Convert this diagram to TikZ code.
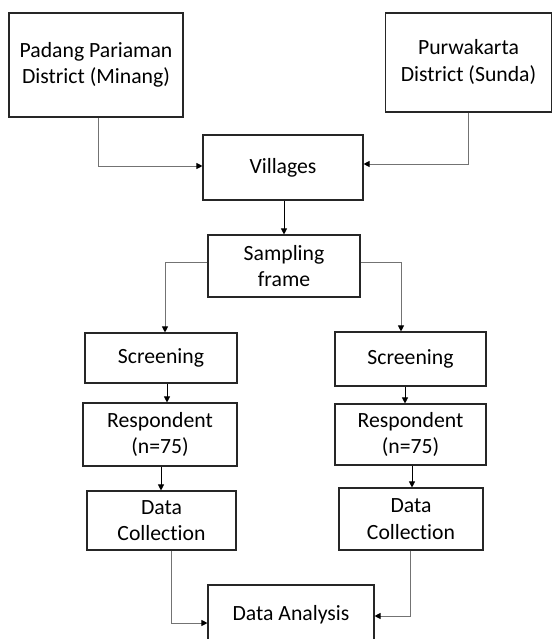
\documentclass[tikz,border=0pt]{standalone}
\usepackage{fontspec}
\setmainfont{Carlito}[RawFeature={-liga;-dlig}]
\usetikzlibrary{arrows.meta}
\tikzset{
  box/.style={draw=black!85, line width=1.1pt, fill=white, inner sep=0pt, align=center,
    font=\fontsize{21.7}{26.5}\selectfont},
  link/.style={draw=black!55, line width=0.9pt, -{Triangle[black,length=6pt,width=6pt]}},
  short/.style={draw=black, line width=0.8pt, -{Triangle[black,length=6pt,width=6pt]}},
}
\begin{document}
\begin{tikzpicture}[x=1pt,y=-1pt]
\useasboundingbox (0,0) rectangle (553,639);
\clip (0,0) rectangle (553,639);
\node[box, minimum width=174pt, minimum height=104pt] (pad) at (96,65) {\raisebox{-2pt}{\begin{tabular}{@{}c@{}}Padang Pariaman\\District (Minang)\end{tabular}}};
\node[box, minimum width=166pt, minimum height=99pt] (pur) at (468.5,62.5) {\raisebox{-1pt}{\begin{tabular}{@{}c@{}}Purwakarta\\District (Sunda)\end{tabular}}};
\node[box, minimum width=160pt, minimum height=65pt] (vil) at (283,167.5) {Villages};
\node[box, minimum width=152pt, minimum height=62pt] (samp) at (284,266) {Sampling\\frame};
\node[box, minimum width=152pt, minimum height=50pt] (scrL) at (161,358) {Screening};
\node[box, minimum width=151pt, minimum height=54pt] (scrR) at (410.5,359) {Screening};
\node[box, minimum width=154pt, minimum height=63pt] (resL) at (160,434.5) {Respondent\\(n=75)};
\node[box, minimum width=151pt, minimum height=61pt] (resR) at (410.5,434.5) {Respondent\\(n=75)};
\node[box, minimum width=149pt, minimum height=59pt] (dcL) at (161.5,520.5) {Data\\Collection};
\node[box, minimum width=144pt, minimum height=62pt] (dcR) at (411,519) {Data\\Collection};
\node[box, minimum width=166pt, minimum height=60pt] (da) at (291,615) {Data Analysis};

\draw[link] ([xshift=2pt]pad.south) |- ([yshift=1.5pt]vil.west);
\draw[link] (pur.south) |- ([yshift=3.5pt]vil.east);
\draw[short] ([xshift=1pt]vil.south) -- (samp.north);
\draw[link] ([yshift=4pt]samp.west) -| ([xshift=4pt]scrL.north);
\draw[link] ([yshift=4pt]samp.east) -| ([xshift=-9.5pt]scrR.north);
\draw[short] ([xshift=6pt]scrL.south) -- ([xshift=7pt]resL.north);
\draw[short] ([xshift=1pt]resL.south) -- ([xshift=-0.5pt]dcL.north);
\draw[short] ([xshift=-5.5pt]scrR.south) -- ([xshift=-5.5pt]resR.north);
\draw[short] ([xshift=1.5pt]resR.south) -- ([xshift=1pt]dcR.north);
\draw[link] ([xshift=9.5pt]dcL.south) |- ([yshift=-8pt]da.west);
\draw[link] ([xshift=-1pt]dcR.south) |- ([yshift=-1pt]da.east);
\end{tikzpicture}
\end{document}
